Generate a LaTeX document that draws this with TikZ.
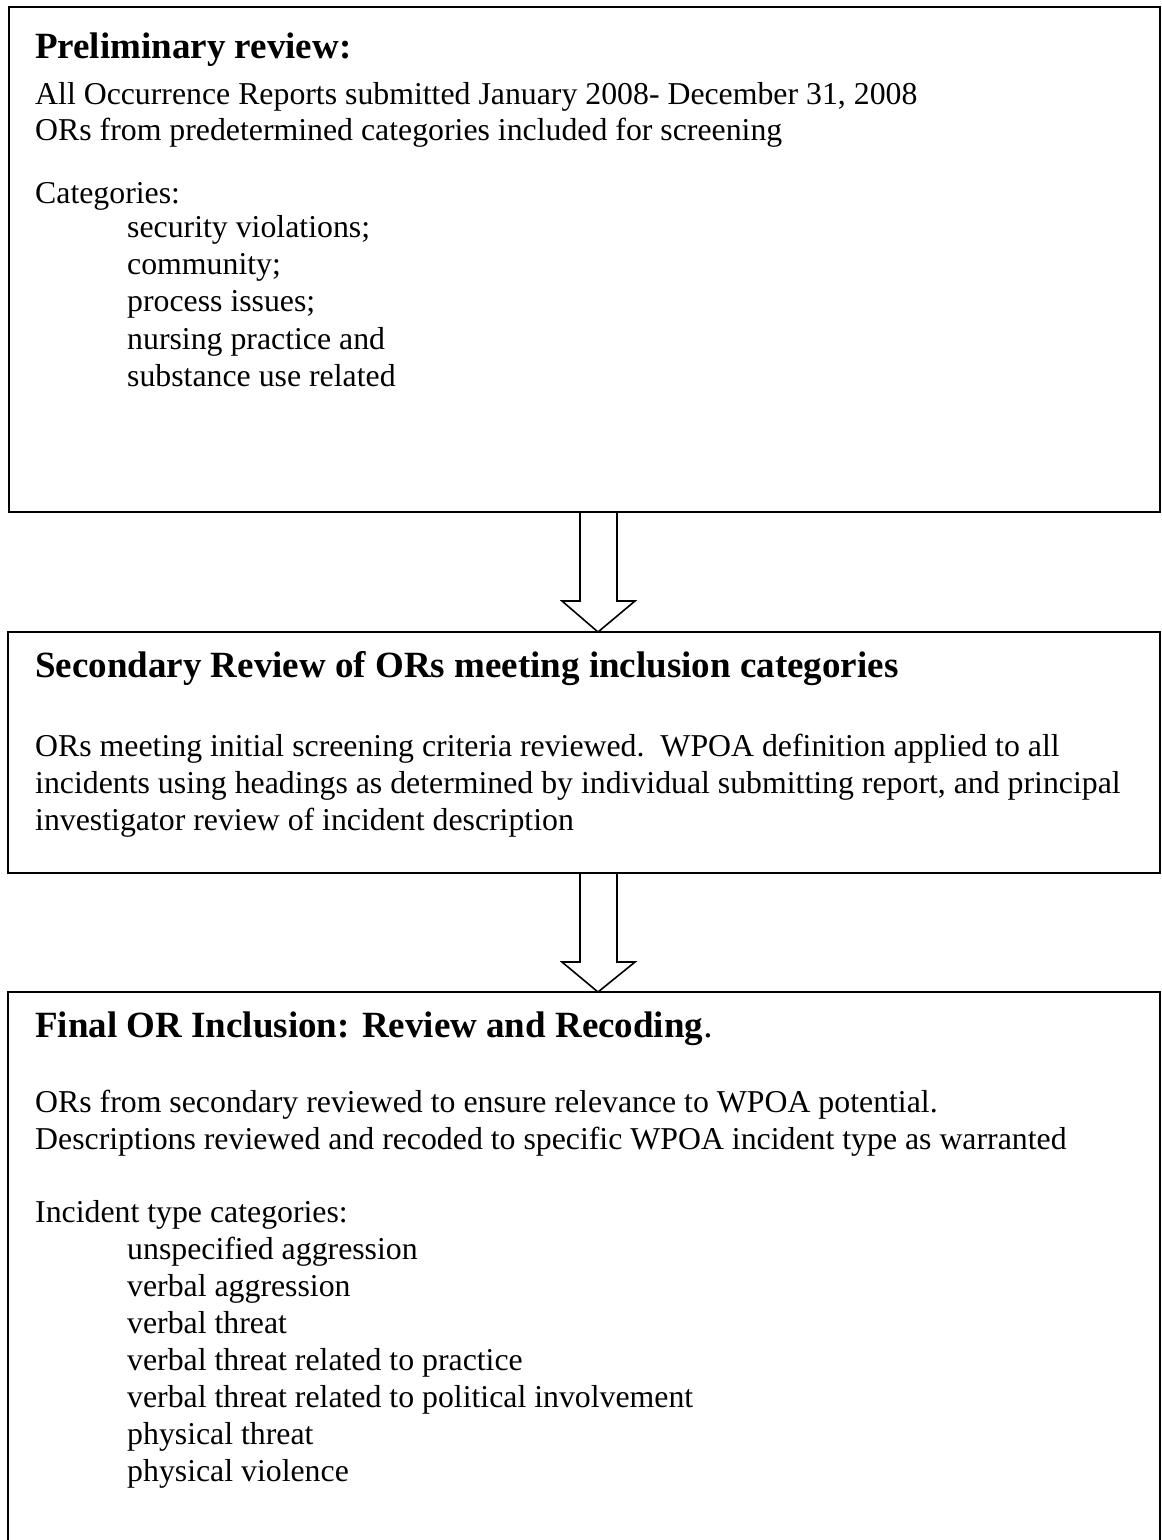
\documentclass[tikz,border=0pt]{standalone}
\usepackage{fontspec}
\setmainfont{Liberation Serif}
\usetikzlibrary{calc}
\begin{document}
\begin{tikzpicture}[x=1pt,y=-1pt,
  boxline/.style={draw=black,line width=1.6pt},
  body/.style={anchor=base west,inner sep=0pt,font=\fontsize{31.8}{36}\selectfont},
  head/.style={anchor=base west,inner sep=0pt,font=\fontsize{37}{42}\selectfont\bfseries},
  flowarrow/.style={draw=black,line width=1.6pt,line join=miter}]
\useasboundingbox (0,0) rectangle (1162,1540);
\clip (0,0) rectangle (1162,1540);
% boxes
\coordinate (b1nw) at (9,7);
\coordinate (b1se) at (1160,512);
\draw[boxline] (b1nw) rectangle (b1se);
\coordinate (b2nw) at (8,632);
\coordinate (b2se) at (1160,873);
\draw[boxline] (b2nw) rectangle (b2se);
\coordinate (b3nw) at (8,992);
\coordinate (b3se) at (1160,1560);
\draw[boxline] (b3nw) rectangle (b3se);
% arrows
\coordinate (a1s) at (598,512);
\coordinate (a1t) at (598,632);
\draw[flowarrow] ($(a1s)+(-18,0)$) -- ($(a1s)+(-18,89)$) -- ($(a1s)+(-36,89)$) -- (a1t) -- ($(a1s)+(37,89)$) -- ($(a1s)+(19,89)$) -- ($(a1s)+(19,0)$);
\coordinate (a2s) at (598,873);
\coordinate (a2t) at (598,992);
\draw[flowarrow] ($(a2s)+(-18,0)$) -- ($(a2s)+(-18,89)$) -- ($(a2s)+(-36,89)$) -- (a2t) -- ($(a2s)+(37,89)$) -- ($(a2s)+(19,89)$) -- ($(a2s)+(19,0)$);
% box 1 text
\node[head] (h1) at (35,58) {Preliminary review:};
\node[body] (t11) at (35,104) {All Occurrence Reports submitted January 2008- December 31, 2008};
\node[body] (t12) at (35,140) {ORs from predetermined categories included for screening};
\node[body] (t13) at (35,203) {Categories:};
\node[body] (t14) at (127,237) {security violations;};
\node[body] (t15) at (127,274) {community;};
\node[body] (t16) at (127,311) {process issues;};
\node[body] (t17) at (127,349) {nursing practice and};
\node[body] (t18) at (127,386) {substance use related};
% box 2 text
\node[head] (h2) at (35,677) {Secondary Review of ORs meeting inclusion categories};
\node[body] (t21) at (35,756) {ORs meeting initial screening criteria reviewed.\ \ WPOA definition applied to all};
\node[body] (t22) at (35,793) {incidents using headings as determined by individual submitting report, and principal};
\node[body] (t23) at (35,830) {investigator review of incident description};
% box 3 text
\node[head] (h3) at (35,1037) {Final OR Inclusion: Review and Recoding\mdseries.};
\node[body] (t31) at (35,1112) {ORs from secondary reviewed to ensure relevance to WPOA potential.};
\node[body] (t32) at (35,1149) {Descriptions reviewed and recoded to specific WPOA incident type as warranted};
\node[body] (t33) at (35,1222) {Incident type categories:};
\node[body] (t34) at (127,1259) {unspecified aggression};
\node[body] (t35) at (127,1296) {verbal aggression};
\node[body] (t36) at (127,1333) {verbal threat};
\node[body] (t37) at (127,1370) {verbal threat related to practice};
\node[body] (t38) at (127,1407) {verbal threat related to political involvement};
\node[body] (t39) at (127,1444) {physical threat};
\node[body] (t3a) at (127,1481) {physical violence};
\end{tikzpicture}
\end{document}
